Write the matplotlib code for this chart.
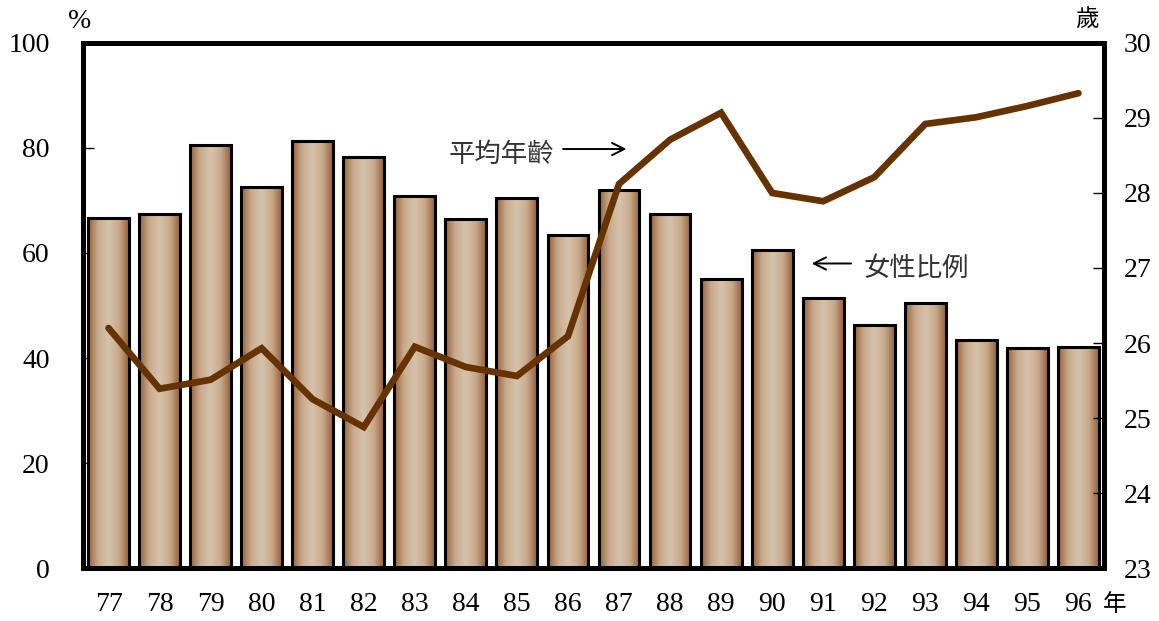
import matplotlib
matplotlib.use("Agg")
import matplotlib.pyplot as plt
import numpy as np
from matplotlib.colors import LinearSegmentedColormap
from matplotlib.patches import Rectangle

years = ["77", "78", "79", "80", "81", "82", "83", "84", "85", "86",
         "87", "88", "89", "90", "91", "92", "93", "94", "95", "96"]
female_pct = [66.7, 67.4, 80.6, 72.6, 81.3, 78.3, 70.9, 66.5, 70.5, 63.4,
              72.0, 67.4, 55.0, 60.6, 51.4, 46.3, 50.5, 43.4, 41.9, 42.1]
avg_age = [26.2, 25.39, 25.51, 25.93, 25.25, 24.88, 25.95, 25.68, 25.56, 26.09,
           28.12, 28.71, 29.07, 28.0, 27.89, 28.21, 28.92, 29.01, 29.16, 29.33]
left_ticks = [0, 20, 40, 60, 80, 100]
right_ticks = [23, 24, 25, 26, 27, 28, 29, 30]

serif = ["Liberation Serif", "Noto Sans CJK TC"]
cjk = ["Noto Sans CJK TC", "DejaVu Sans"]

fig = plt.figure(figsize=(11.59, 6.21), dpi=100)
ax = fig.add_axes([0.0716, 0.0853, 0.8809, 0.8455])
ax2 = ax.twinx()

x = np.arange(len(years))
width = 0.8
cmap = LinearSegmentedColormap.from_list("bar", ["#94603a", "#c9ab8e", "#d6c3ab", "#c9ab8e", "#94603a"])
grad = np.linspace(0, 1, 256).reshape(1, -1)
bars = ax.bar(x, female_pct, width=width, facecolor="none", edgecolor="black", linewidth=2.2, zorder=3)
for b in bars:
    bx, by = b.get_x(), b.get_y()
    bw, bh = b.get_width(), b.get_height()
    im = ax.imshow(grad, cmap=cmap, aspect="auto", extent=[bx, bx + bw, by, by + bh],
                   interpolation="bicubic", zorder=2)
    clip = Rectangle((bx, by), bw, bh, transform=ax.transData)
    im.set_clip_path(clip)

ax.set_xlim(-0.5, len(years) - 0.5)
ax.set_ylim(0, 100)
ax2.set_ylim(23, 30)

ax2.plot(x, avg_age, color="#663300", linewidth=4.8, solid_capstyle="round", solid_joinstyle="miter", zorder=5)

ax.set_yticks(left_ticks)
ax.set_yticklabels([str(t) for t in left_ticks], family=serif, fontsize=20)
ax2.set_yticks(right_ticks)
ax2.set_yticklabels([str(t) for t in right_ticks], family=serif, fontsize=20)
ax.set_xticks(x)
ax.set_xticklabels(years, family=serif, fontsize=20)

ax.tick_params(axis="y", direction="in", length=8, width=1, pad=24)
ax2.tick_params(axis="y", direction="in", length=8, width=1, pad=14)
ax.tick_params(axis="x", length=0, pad=17)

for a in (ax, ax2):
    for s in a.spines.values():
        s.set_linewidth(3.5)

ax.text(-0.56, 104, "%", family=serif, fontsize=20, ha="center", va="center")
ax.text(19.17, 104.5, "歲", family=cjk, fontsize=17, ha="center", va="center")
ax.text(19.71, -7.0, "年", family=cjk, fontsize=17, ha="center", va="center")

ax.annotate("", xy=(10.2, 79.8), xytext=(8.85, 79.8),
            arrowprops=dict(arrowstyle="->", color="black", lw=1.4, mutation_scale=22))
ax.text(7.7, 78.8, "平均年齡", family=cjk, fontsize=19, style="italic", fontweight="light",
        ha="center", va="center", color="#333333")
ax.annotate("", xy=(13.72, 58.0), xytext=(14.6, 58.0),
            arrowprops=dict(arrowstyle="->", color="black", lw=1.4, mutation_scale=22))
ax.text(14.78, 57.1, "女性比例", family=cjk, fontsize=19, style="italic", fontweight="light",
        ha="left", va="center", color="#333333")

fig.savefig("out.png", dpi=100)
